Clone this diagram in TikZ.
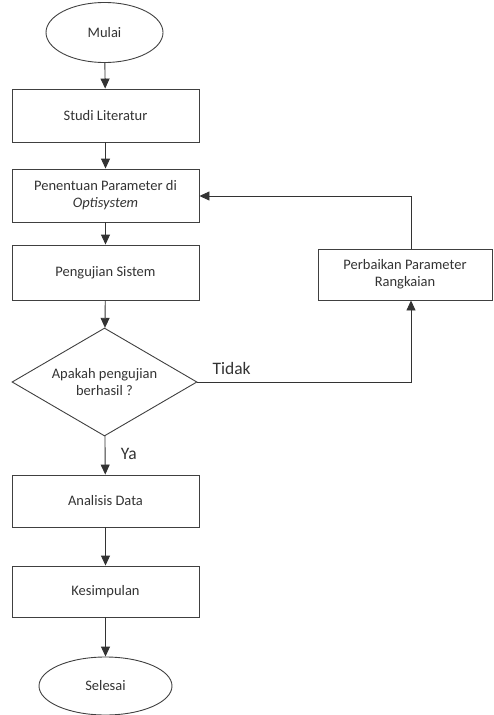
\documentclass[tikz,border=0pt]{standalone}
\usepackage{fontspec}
\setmainfont{Carlito}
\usetikzlibrary{shapes.geometric,arrows.meta}
\begin{document}
\begin{tikzpicture}[x=1pt,y=-1pt,
  every node/.style={font=\fontsize{14.5}{17}\selectfont, text=black!80},
  proc/.style={draw=black!75, line width=0.9pt, minimum width=187pt, minimum height=53pt, align=center, inner sep=0pt},
  term/.style={draw=black!75, line width=0.9pt, ellipse, inner sep=0pt},
  dec/.style={draw=black!75, line width=0.9pt, diamond, aspect=1.7, inner sep=0pt, minimum width=185pt, minimum height=108pt, align=center},
  arr/.style={draw=black!80, line width=0.9pt, -{Triangle[length=10pt,width=9pt]}},
  lbl/.style={font=\fontsize{17.5}{20}\selectfont}]
\useasboundingbox (0,0) rectangle (493,715);
\node[term, minimum width=117pt, minimum height=60pt] (mulai) at (104.5,32.5) {Mulai};
\node[proc] (studi) at (105.5,115.5) {Studi Literatur};
\node[proc] (penentuan) at (105.5,195.5) {Penentuan Parameter di\\\textit{Optisystem}};
\node[proc, minimum height=55pt] (uji) at (105.5,272.5) {Pengujian Sistem};
\node[dec] (cek) at (104.5,382) {Apakah pengujian\\berhasil ?};
\node[proc, minimum width=174pt, minimum height=51pt] (perbaikan) at (405,274.5) {Perbaikan Parameter\\Rangkaian};
\node[proc, minimum height=52pt] (analisis) at (105.5,501) {Analisis Data};
\node[proc, minimum height=51pt] (kesimpulan) at (105.5,591.5) {Kesimpulan};
\node[term, minimum width=133pt, minimum height=58pt] (selesai) at (105.5,686) {Selesai};
\coordinate (c1) at (411,382);
\coordinate (c2) at (411,196);
\draw[arr] (mulai) -- (studi);
\draw[arr] (studi) -- (penentuan);
\draw[arr] (penentuan) -- (uji);
\draw[arr] (uji) -- (cek);
\draw[arr] (cek) -- node[lbl, right, xshift=12pt, pos=0.45]{Ya} (analisis);
\draw[arr] (analisis) -- (kesimpulan);
\draw[arr] (kesimpulan) -- (selesai);
\draw[arr] (cek.east) -- node[lbl, above, pos=0.16, yshift=4pt]{Tidak} (c1) -- (perbaikan.south -| c1);
\draw[arr] (perbaikan.north -| c2) -- (c2) -- (penentuan.east |- c2);
\end{tikzpicture}
\end{document}
